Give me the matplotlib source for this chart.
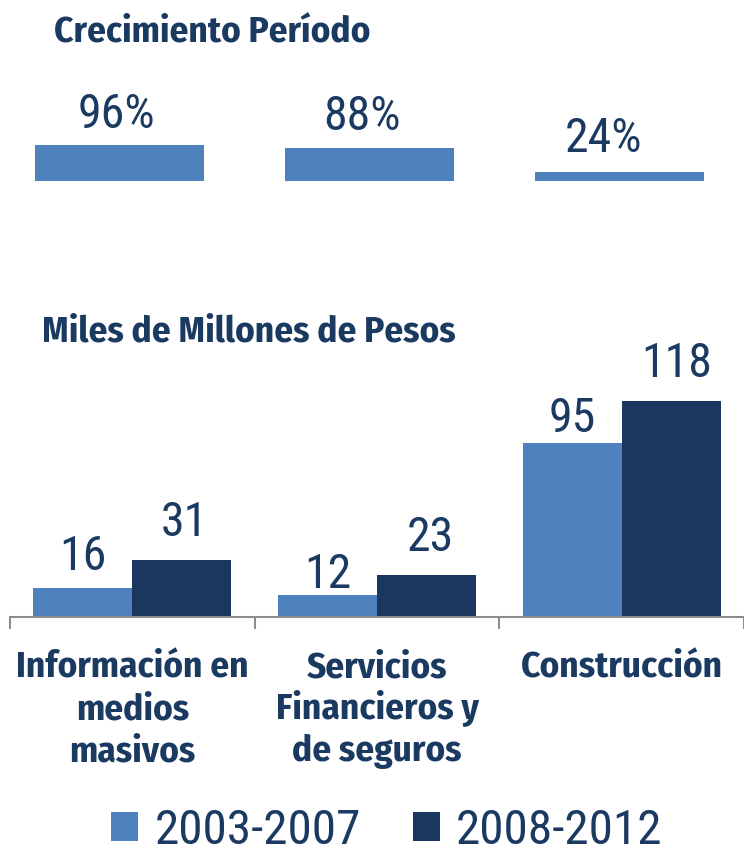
import matplotlib
matplotlib.use("Agg")
import matplotlib.pyplot as plt
import numpy as np

BOLD_FONT = ['Fira Sans Condensed', 'DejaVu Sans']
NUM_FONT = ['Roboto Condensed', 'DejaVu Sans']
plt.rcParams['font.family'] = BOLD_FONT

# Data
growth_labels = ["96%", "88%", "24%"]
growth_values = [96, 88, 24]
categories = ["Información en\nmedios\nmasivos", "Servicios\nFinancieros y\nde seguros", "Construcción"]
series_names = ["2003-2007", "2008-2012"]
values_0307 = [16, 12, 95]
values_0812 = [31, 23, 118]

# Style: label offsets (pixels) as placed in the reference
growth_label_dx = [-3.5, -7.5, -16]
growth_label_dy = [17, 18, 20]
light_label_dy = [17.5, 7.5, 11]
dark_label_dy = [24, 24, 24]
dark_label_dx = [3, 4, 6]

LIGHT = "#4F81BD"
DARK = "#1A385F"
TEXT = "#1B3A62"
GRAY = "#8C8C8C"
PT = 0.72  # points per pixel at dpi 100
BOLD_SIZE = 26.7
NUM_SIZE = 34.5

W, H = 744, 850
fig = plt.figure(figsize=(W / 100, H / 100), dpi=100)

def px_axes(left, top, right, bottom):
    return fig.add_axes([left / W, 1 - bottom / H, (right - left) / W, (bottom - top) / H])

# Top panel: growth
ax1 = px_axes(0, 81, 744, 181)
x1 = np.arange(len(growth_values))
ax1.bar(x1, growth_values, width=0.676, color=LIGHT)
ax1.set_xlim(-0.478, 2.498)
ax1.set_ylim(0, 266.7)
ax1.axis('off')
for xi, v, lab, dx, dy in zip(x1, growth_values, growth_labels, growth_label_dx, growth_label_dy):
    ax1.annotate(lab, xy=(xi, v), xytext=(dx * PT, dy * PT), textcoords='offset points',
                 ha='center', va='baseline', fontsize=NUM_SIZE, color=TEXT, family=NUM_FONT)

fig.text(54 / W, 1 - 42.3 / H, "Crecimiento Período", fontsize=BOLD_SIZE, fontweight='bold',
         color=TEXT, ha='left', va='baseline')

# Bottom panel: grouped bars
ax2 = px_axes(10, 340, 744, 617)
x2 = np.arange(len(categories))
bw = 0.404
b1 = ax2.bar(x2 - bw / 2, values_0307, width=bw, color=LIGHT, label=series_names[0])
b2 = ax2.bar(x2 + bw / 2, values_0812, width=bw, color=DARK, label=series_names[1])
ax2.set_xlim(-0.5, 2.476)
ax2.set_ylim(0, 151.4)
for s in ['top', 'right', 'left']:
    ax2.spines[s].set_visible(False)
ax2.spines['bottom'].set_color(GRAY)
ax2.spines['bottom'].set_linewidth(1.5)
ax2.set_yticks([])
ax2.set_xticks([-0.5, 0.5, 1.5, 2.5])
ax2.set_xticklabels([])
ax2.tick_params(axis='x', direction='out', length=12 * PT, width=1.5, color=GRAY)

for rect, dy in zip(b1, light_label_dy):
    v = rect.get_height()
    ax2.annotate(f"{v:g}", xy=(rect.get_x() + rect.get_width() / 2, v), xytext=(0, dy * PT),
                 textcoords='offset points', ha='center', va='baseline',
                 fontsize=NUM_SIZE, color=TEXT, family=NUM_FONT)
for rect, dx, dy in zip(b2, dark_label_dx, dark_label_dy):
    v = rect.get_height()
    ax2.annotate(f"{v:g}", xy=(rect.get_x() + rect.get_width() / 2, v), xytext=(dx * PT, dy * PT),
                 textcoords='offset points', ha='center', va='baseline',
                 fontsize=NUM_SIZE, color=TEXT, family=NUM_FONT)

line_baselines = [60.3, 102.3, 144.3]
for xi, lab in zip(x2, categories):
    for line, off in zip(lab.split("\n"), line_baselines):
        ax2.annotate(line, xy=(xi, 0), xycoords=('data', 'axes fraction'),
                     xytext=(0, -off * PT), textcoords='offset points', ha='center',
                     va='baseline', fontsize=BOLD_SIZE, fontweight='bold', color=TEXT)

fig.text(42 / W, 1 - 342 / H, "Miles de Millones de Pesos", fontsize=BOLD_SIZE, fontweight='bold',
         color=TEXT, ha='left', va='baseline')

leg = fig.legend(handles=[b1, b2], labels=series_names, loc='center',
                 bbox_to_anchor=(387 / W, 1 - 831 / H), ncol=2, frameon=False,
                 prop={'family': NUM_FONT, 'size': 35.5},
                 handlelength=0.55, handleheight=0.55, handletextpad=0.33,
                 columnspacing=1.05, borderaxespad=0, borderpad=0)
for t in leg.get_texts():
    t.set_color(TEXT)

fig.savefig("out.png", dpi=100)
